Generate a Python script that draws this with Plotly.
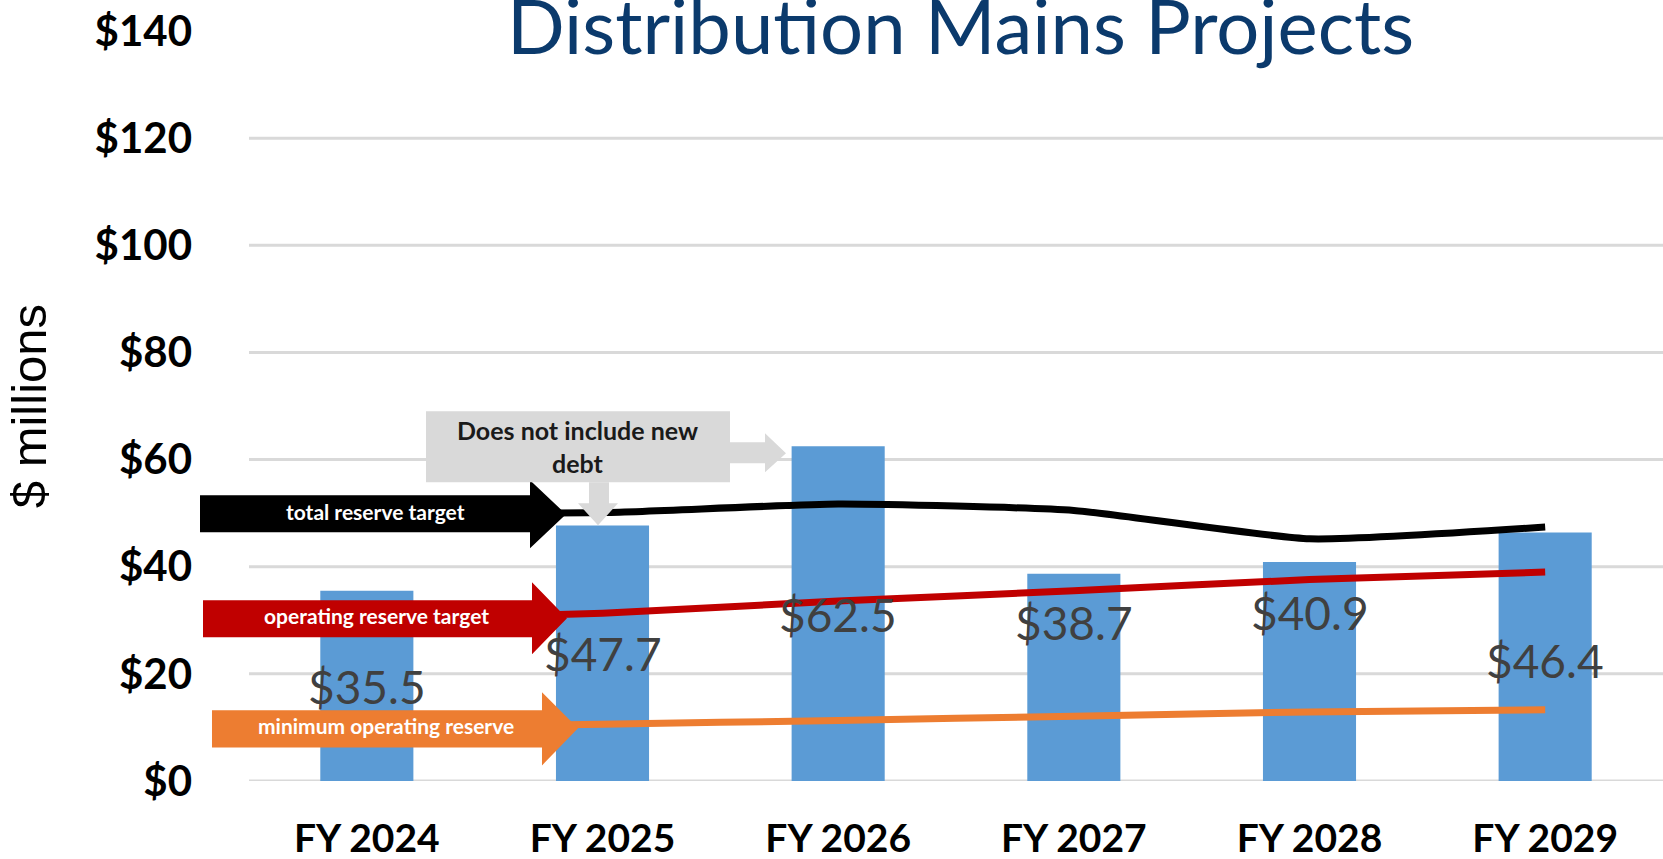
import plotly.graph_objects as go

# ---- data ($ millions) ----
years = ["FY 2024", "FY 2025", "FY 2026", "FY 2027", "FY 2028", "FY 2029"]
projects = [35.5, 47.7, 62.5, 38.7, 40.9, 46.4]
total_reserve_target = [50.0, 50.1, 51.7, 50.5, 45.2, 47.4]
operating_reserve_target = [30.0, 31.3, 33.6, 35.5, 37.6, 39.0]
minimum_operating_reserve = [10.0, 10.6, 11.3, 12.1, 12.9, 13.3]

# vertical placement of the value labels on the bars
label_y = [17.6, 23.8, 31.0, 29.6, 31.5, 22.5]

y_ticks = [0, 20, 40, 60, 80, 100, 120, 140]
grid_values = [0, 20, 40, 60, 80, 100, 120]

# ---- page geometry (pixels) ----
W, H = 1663, 859
L, R, T, B = 249, 1663, 31, 780.6


def px(x):
    return (x - L) / (R - L)


def py(y):
    return (B - y) / (B - T)


BLUE = "#5B9BD5"
RED = "#C00000"
ORANGE = "#ED7D31"
GRID = "#D9D9D9"

fig = go.Figure()

fig.add_trace(go.Bar(
    x=years, y=projects, marker=dict(color=BLUE, line=dict(width=0)),
    hoverinfo="skip", showlegend=False,
))

for vals, color in [(total_reserve_target, "#000000"),
                    (operating_reserve_target, RED),
                    (minimum_operating_reserve, ORANGE)]:
    fig.add_trace(go.Scatter(
        x=years, y=vals, mode="lines",
        line=dict(color=color, width=7, shape="spline", smoothing=0.5),
        hoverinfo="skip", showlegend=False,
    ))

shapes = []
# horizontal gridlines
for g in grid_values:
    shapes.append(dict(type="line", xref="paper", yref="y", x0=0, x1=1, y0=g, y1=g,
                       line=dict(color=GRID, width=3), layer="below"))


def arrow_path(x0, x1, yb0, yb1, yh0, yh1, tx, ty):
    pts = [(x0, yb0), (x1, yb0), (x1, yh0), (tx, ty), (x1, yh1), (x1, yb1), (x0, yb1)]
    return "M " + " L ".join(f"{px(a):.5f},{py(b):.5f}" for a, b in pts) + " Z"


# series name arrows pointing at the start of each line
series_arrows = [
    ("total reserve target", "#000000", (200, 530, 495, 532, 480, 548, 566, 514), (375, 511)),
    ("operating reserve target", RED, (203, 532, 600, 637, 582, 654, 567, 618), (376, 615)),
    ("minimum operating reserve", ORANGE, (212, 542, 710, 747, 692, 765, 578, 728), (386, 725)),
]

annotations = []
for text, color, geo, (cx, cy) in series_arrows:
    shapes.append(dict(type="path", xref="paper", yref="paper", path=arrow_path(*geo),
                       fillcolor=color, line=dict(width=0), layer="above"))
    annotations.append(dict(text=text, xref="paper", yref="paper", x=px(cx), y=py(cy),
                            showarrow=False, xanchor="center", yanchor="middle",
                            font=dict(family="Lato", size=21, color="#FFFFFF", weight="bold")))

# grey callout with a right-pointing and a down-pointing arrow
CALLOUT = "#D9D9D9"
shapes.append(dict(type="rect", xref="paper", yref="paper",
                   x0=px(426), x1=px(730), y0=py(482), y1=py(411),
                   fillcolor=CALLOUT, line=dict(width=0), layer="above"))
right_arrow = [(730, 442), (765, 442), (765, 433), (786, 453), (765, 472), (765, 463), (730, 463)]
down_arrow = [(589, 482), (609, 482), (609, 503), (618, 503), (598, 525), (578, 503), (589, 503)]
for pts in (right_arrow, down_arrow):
    shapes.append(dict(type="path", xref="paper", yref="paper",
                       path="M " + " L ".join(f"{px(a):.5f},{py(b):.5f}" for a, b in pts) + " Z",
                       fillcolor=CALLOUT, line=dict(width=0), layer="above"))
annotations.append(dict(text="Does not include new<br>debt", xref="paper", yref="paper",
                        x=px(577), y=py(446), showarrow=False, xanchor="center", yanchor="middle",
                        font=dict(family="Lato", size=25, color="#1A1A1A", weight="bold")))

# value labels on the bars
for yr, v, ly in zip(years, projects, label_y):
    annotations.append(dict(text=f"${v:.1f}", x=yr, y=ly, xref="x", yref="y",
                            showarrow=False, xanchor="center", yanchor="middle",
                            font=dict(family="Lato", size=46, color="#404040")))

# chart title
annotations.append(dict(text="Distribution Mains Projects", xref="paper", yref="paper",
                        x=px(961), y=py(25), showarrow=False, xanchor="center", yanchor="middle",
                        font=dict(family="Lato", size=76, color="#0B3A6C")))

# y-axis caption
annotations.append(dict(text="$ millions", xref="paper", yref="paper",
                        x=px(29), y=py(406), showarrow=False, textangle=-90,
                        xanchor="center", yanchor="middle",
                        font=dict(family="Liberation Sans", size=49, color="#000000")))

fig.update_layout(
    width=W, height=H,
    margin=dict(l=L, r=W - R, t=T, b=H - B, autoexpand=False),
    paper_bgcolor="#FFFFFF", plot_bgcolor="#FFFFFF",
    bargap=0.605,
    shapes=shapes, annotations=annotations,
    xaxis=dict(showgrid=False, zeroline=False, showline=False, ticks="", automargin=False,
               tickfont=dict(family="Lato", size=39, color="#000000", weight="bold"),
               ticklabelstandoff=31, fixedrange=True),
    yaxis=dict(range=[0, 140], tickvals=y_ticks, ticktext=[f"${v}" for v in y_ticks],
               showgrid=False, zeroline=False, showline=False, ticks="", automargin=False,
               tickfont=dict(family="Lato", size=42, color="#000000", weight="bold"),
               ticklabelstandoff=56, fixedrange=True),
)

fig.write_html("out.html", config={"displayModeBar": False})
